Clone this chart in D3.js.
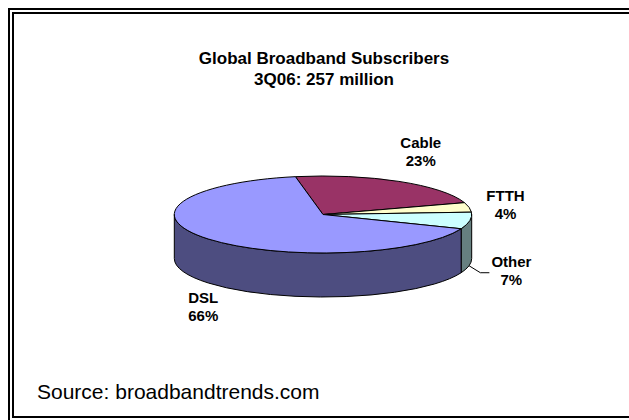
<!DOCTYPE html>
<html>
<head>
<meta charset="utf-8">
<script src="https://cdn.jsdelivr.net/npm/d3@7"></script>
<style>
  body { margin: 0; background: #fff; }
  text { font-family: "Liberation Sans", Arial, sans-serif; fill: #000; }
</style>
</head>
<body>
<div class="chart"></div>
<script>
// data, clockwise from the back edge of the pie
const categories = ["Cable", "FTTH", "Other", "DSL"];
const shares = [23, 4, 7, 66];
const shareLabels = ["23%", "4%", "7%", "66%"];
const titleLines = ["Global Broadband Subscribers", "3Q06: 257 million"];
const sourceNote = "Source: broadbandtrends.com";

const topColors = ["#993366", "#FFFFCC", "#CCFFFF", "#9999FF"];

var width = 629, height = 420;
const svg = d3.select(".chart").append("svg")
    .attr("width", width)
    .attr("height", height);

// double frame (cut off on the right and bottom like the screenshot)
svg.append("rect")
    .attr("x", 9).attr("y", 9)
    .attr("width", 660).attr("height", 430)
    .attr("fill", "none").attr("stroke", "#000").attr("stroke-width", 2);
svg.append("rect")
    .attr("x", 13).attr("y", 13)
    .attr("width", 650).attr("height", 404)
    .attr("fill", "none").attr("stroke", "#000").attr("stroke-width", 2);

// title
svg.selectAll(".title")
    .data(titleLines)
    .enter().append("text")
    .attr("class", "title")
    .attr("x", 324)
    .attr("y", (d, i) => 64 + i * 21)
    .attr("text-anchor", "middle")
    .style("font-size", "17px")
    .style("font-weight", "bold")
    .text(d => d);

// 3d pie geometry
const cx = 323, cy = 214.5, rx = 148.7, ry = 38.5, depth = 44;
const start = -10.7 * Math.PI / 180;

const pie = d3.pie()
    .sort(null)
    .value(d => d)
    .startAngle(start)
    .endAngle(start + 2 * Math.PI);

const arcs = pie(shares);

function pt(a, dz) {
    return [cx + rx * Math.sin(a), cy - ry * Math.cos(a) + (dz || 0)];
}

function topPath(a0, a1) {
    const p0 = pt(a0), p1 = pt(a1);
    const large = (a1 - a0) > Math.PI ? 1 : 0;
    return `M${cx},${cy}L${p0}A${rx},${ry} 0 ${large} 1 ${p1}Z`;
}

function sidePath(a0, a1) {
    const s0 = pt(a0), s1 = pt(a1), b1 = pt(a1, depth), b0 = pt(a0, depth);
    return `M${s0}A${rx},${ry} 0 0 1 ${s1}L${b1}A${rx},${ry} 0 0 0 ${b0}Z`;
}

function darker(c) {
    const r = d3.rgb(c);
    return d3.rgb(r.r * 0.5, r.g * 0.5, r.b * 0.5).formatHex();
}

// visible (front) part of each slice wall
const fronts = arcs.map((d, i) => {
    const s = Math.max(d.startAngle, Math.PI / 2);
    const e = Math.min(d.endAngle, 3 * Math.PI / 2);
    return { i: i, s: s, e: e };
}).filter(d => d.s < d.e);

svg.append("g").selectAll("path")
    .data(fronts)
    .enter().append("path")
    .attr("d", d => sidePath(d.s, d.e))
    .attr("fill", d => darker(topColors[d.i]))
    .attr("stroke", "#000")
    .attr("stroke-width", 1)
    .attr("stroke-linejoin", "round");

svg.append("g").selectAll("path")
    .data(arcs)
    .enter().append("path")
    .attr("d", d => topPath(d.startAngle, d.endAngle))
    .attr("fill", (d, i) => topColors[i])
    .attr("stroke", "#000")
    .attr("stroke-width", 1)
    .attr("stroke-linejoin", "round");

// labels
const labelNudge = { Cable: [4, 0], FTTH: [2, 3], Other: [7, 0], DSL: [22, 1] };
const labelGap = 35;

const labelPos = arcs.map((d, i) => {
    const m = (d.startAngle + d.endAngle) / 2;
    const front = Math.cos(m) < 0;
    const n = labelNudge[categories[i]];
    return {
        i: i,
        x: cx + (rx + labelGap) * Math.sin(m) + n[0],
        y: cy - (ry + labelGap) * Math.cos(m) + (front ? depth : 0) + n[1]
    };
});

const lbl = svg.append("g").selectAll("g")
    .data(labelPos)
    .enter().append("g");

lbl.append("text")
    .attr("x", d => d.x)
    .attr("y", d => d.y - 3)
    .attr("text-anchor", "middle")
    .style("font-size", "15px")
    .style("font-weight", "bold")
    .text(d => categories[d.i]);

lbl.append("text")
    .attr("x", d => d.x)
    .attr("y", d => d.y + 15)
    .attr("text-anchor", "middle")
    .style("font-size", "15px")
    .style("font-weight", "bold")
    .text(d => shareLabels[d.i]);

// leader line for the small "Other" slice
const oi = categories.indexOf("Other");
const of = fronts.find(d => d.i === oi);
const lp = labelPos[oi];
const p0 = pt((of.s + of.e) / 2, depth);
svg.append("path")
    .attr("d", d3.line()([p0, [lp.x - 31, lp.y + 2.6], [lp.x - 22, lp.y + 2.6]]))
    .attr("fill", "none")
    .attr("stroke", "#000")
    .attr("stroke-width", 1);

// source note
svg.append("text")
    .attr("x", 37)
    .attr("y", 399)
    .style("font-size", "21px")
    .text(sourceNote);
</script>
</body>
</html>
